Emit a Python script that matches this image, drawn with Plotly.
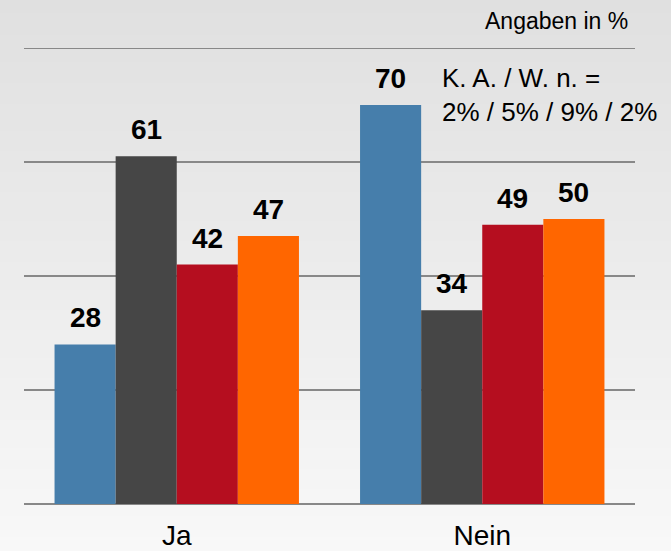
import plotly.graph_objects as go

categories = ["Ja", "Nein"]
series_names = ["Serie 1", "Serie 2", "Serie 3", "Serie 4"]
series_values = [
    [28, 70],
    [61, 34],
    [42, 49],
    [47, 50],
]
colors = ["#467eab", "#464646", "#b50e1f", "#ff6600"]
offsets = [-0.3, -0.1, 0.1, 0.3]
y_max = 80

W, H = 671, 551
L, R, T, B = 24, 36, 48, 47
pw, ph = W - L - R, H - T - B


def px_x(px):
    return (px - L) / pw


def px_y(py):
    return (H - B - py) / ph


FONT = "Liberation Sans, Arial, sans-serif"

fig = go.Figure()
for name, vals, col in zip(series_names, series_values, colors):
    fig.add_trace(go.Bar(x=categories, y=vals, name=name,
                         marker=dict(color=col, line=dict(width=0)), hoverinfo="skip"))

for vals, off in zip(series_values, offsets):
    for i, v in enumerate(vals):
        fig.add_annotation(x=i + off, y=v, xref="x", yref="y", text=f"<b>{v}</b>",
                           showarrow=False, yanchor="bottom", yshift=9,
                           font=dict(size=28, color="#000000", family=FONT))

fig.add_annotation(text="Angaben in %", x=px_x(630), y=px_y(21), xref="paper", yref="paper",
                   xanchor="right", yanchor="middle", showarrow=False,
                   font=dict(size=23, color="#000000", family=FONT))
fig.add_annotation(text="K. A. / W. n. =<br>2% / 5% / 9% / 2%", x=px_x(440), y=px_y(61),
                   xref="paper", yref="paper", xanchor="left", yanchor="top", align="left",
                   showarrow=False, font=dict(size=26, color="#000000", family=FONT))

# vertical gradient background across the whole figure
shapes = []
n = 80
for k in range(n):
    t = k / (n - 1)
    c = round(224 + (248 - 224) * t)
    y_top = k * H / n
    y_bot = (k + 1) * H / n + 1
    shapes.append(dict(type="rect", xref="paper", yref="paper",
                       x0=px_x(-2), x1=px_x(W + 2), y0=px_y(y_bot), y1=px_y(y_top),
                       fillcolor=f"rgb({c},{c},{c})", line=dict(width=0), layer="below"))
# top gridline (at the range edge)
shapes.append(dict(type="line", xref="paper", yref="y", x0=0, x1=1, y0=y_max, y1=y_max,
                   line=dict(color="#888888", width=2), layer="below"))

fig.update_layout(
    width=W, height=H,
    margin=dict(l=L, r=R, t=T, b=B, autoexpand=False),
    paper_bgcolor="#eeeeee", plot_bgcolor="rgba(0,0,0,0)",
    barmode="group", bargap=0.2, bargroupgap=0,
    showlegend=False,
    shapes=shapes,
    font=dict(family=FONT, color="#000000"),
    xaxis=dict(showgrid=False, showline=False, ticks="", tickfont=dict(size=28, color="#000000"),
               range=[-0.5, 1.5], ticklabelstandoff=12, automargin=False),
    yaxis=dict(range=[0, y_max], dtick=20, showgrid=True, gridcolor="#888888", gridwidth=2,
               zeroline=True, zerolinecolor="#888888", zerolinewidth=2,
               showticklabels=False, ticks="", automargin=False),
)

fig.write_html("out.html", config={"displayModeBar": False},
               post_script="document.body.style.margin='0';")
